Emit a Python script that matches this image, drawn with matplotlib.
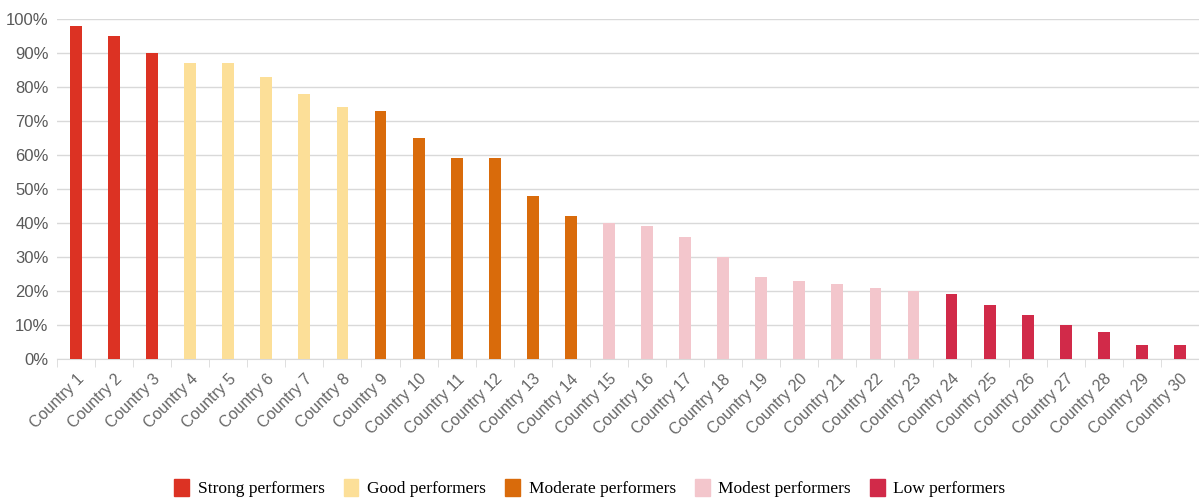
import matplotlib.pyplot as plt
from matplotlib.patches import Patch
import numpy as np

countries = ["Country %d" % i for i in range(1, 31)]
values = [98, 95, 90, 87, 87, 83, 78, 74, 73, 65, 59, 59, 48, 42, 40,
          39, 36, 30, 24, 23, 22, 21, 20, 19, 16, 13, 10, 8, 4, 4]
groups = ["Strong"] * 3 + ["Good"] * 5 + ["Moderate"] * 6 + ["Modest"] * 9 + ["Low"] * 7

group_names = ["Strong", "Good", "Moderate", "Modest", "Low"]
group_labels = ["Strong performers", "Good performers", "Moderate performers",
                "Modest performers", "Low performers"]
group_colors = {"Strong": "#DC3223", "Good": "#FCDF98", "Moderate": "#D96B0B",
                "Modest": "#F3C6CC", "Low": "#D12A49"}

plt.rcParams['font.family'] = ['Liberation Sans', 'DejaVu Sans']

fig = plt.figure(figsize=(11.99, 4.99), dpi=100)
ax = fig.add_axes([0.0475, 0.2806, 0.9525, 0.6814])

x = np.arange(len(countries))
ax.bar(x, values, width=0.31, color=[group_colors[g] for g in groups], zorder=3)

ax.set_ylim(0, 100)
ax.set_xlim(-0.5, 29.32)
ax.set_yticks(np.arange(0, 101, 10))
ax.set_yticklabels(["%d%%" % v for v in range(0, 101, 10)], fontsize=12, color="#595959")
ax.yaxis.grid(True, color="#D9D9D9", linewidth=1, zorder=0)
ax.tick_params(axis="y", length=0, pad=6)

ax.set_xticks(x)
ax.set_xticklabels(countries, rotation=45, ha="right", rotation_mode="anchor",
                   fontsize=11.5, color="#666666")
ax.set_xticks(np.arange(-0.5, 30, 1), minor=True)
ax.tick_params(axis="x", which="major", length=0, pad=9)
ax.tick_params(axis="x", which="minor", length=6, color="#D9D9D9")

for s in ["top", "right", "left"]:
    ax.spines[s].set_visible(False)
ax.spines["bottom"].set_color("#D9D9D9")

handles = [Patch(color=group_colors[g]) for g in group_names]
fig.legend(handles, group_labels, loc="center", bbox_to_anchor=(0.492, 0.022),
           ncol=5, frameon=False, handlelength=0.85, handleheight=1.15,
           handletextpad=0.5, columnspacing=1.1,
           prop={"family": "Liberation Serif", "size": 12.5})

fig.savefig("out.png", dpi=100)
